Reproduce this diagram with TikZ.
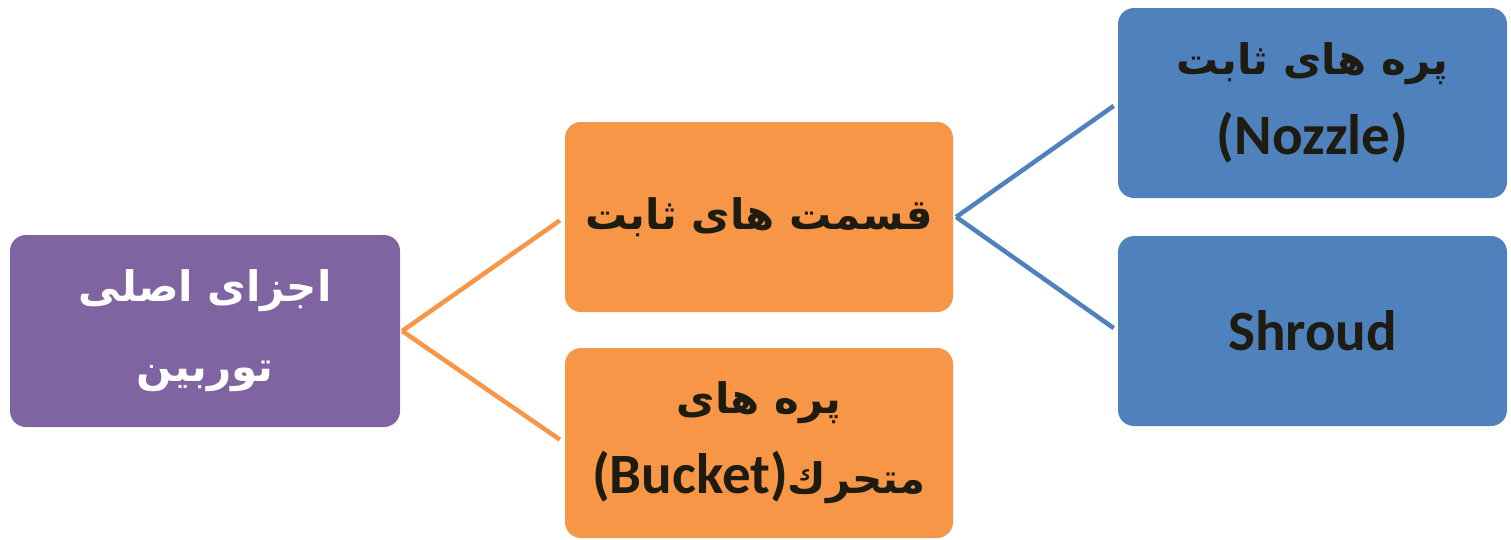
\documentclass[tikz,border=0pt]{standalone}
\usepackage{fontspec}
\setmainfont{Carlito}
\newfontfamily\arfam[Script=Arabic]{DejaVu Sans}
\newfontfamily\latfam{Carlito}
\newcommand\ar{\arfam\fontsize{42}{80}\selectfont}
\newcommand\lat{\latfam\fontsize{57}{80}\selectfont}
\TeXXeTstate=1
\definecolor{cpurple}{HTML}{8064A2}
\definecolor{corange}{HTML}{F79646}
\definecolor{cblue}{HTML}{4F81BD}
\definecolor{ctext}{HTML}{1E1B10}
\tikzset{
  box/.style={rounded corners=16pt, inner sep=0pt, align=center,
    font=\bfseries\fontsize{42}{80}\selectfont, text=ctext},
  pbox/.style={box, fill=cpurple, text=white, minimum width=390pt, minimum height=192pt},
  obox/.style={box, fill=corange, minimum width=388pt, minimum height=190pt},
  bbox/.style={box, fill=cblue, minimum width=389pt, minimum height=190pt},
  oline/.style={draw=corange, line width=4.5pt, shorten >=6pt},
  bline/.style={draw=cblue, line width=4.5pt, shorten >=5pt}
}
\begin{document}
\begin{tikzpicture}[x=1pt,y=-1pt]
\useasboundingbox (0,0) rectangle (1511,539);
\node[pbox] (root) at (205,331) {\ar\beginR اجزای اصلی\endR\\\ar\beginR توربین\endR};
\node[obox] (fixed) at (759,217) {\ar\beginR قسمت های ثابت\endR};
\node[obox] (moving) at (759,443) {\ar\beginR پره های\endR\\\ar\beginR متحرك\beginL{\lat(Bucket)}\endL\endR};
\node[bbox] (nozzle) at (1312.5,103) {\ar\beginR پره های ثابت\endR\\{\lat(Nozzle)}};
\node[bbox] (shroud) at (1312.5,331) {\lat Shroud};
\draw[oline] ([xshift=2pt]root.east) -- (fixed.west);
\draw[oline] ([xshift=2pt]root.east) -- (moving.west);
\draw[bline] ([xshift=3pt]fixed.east) -- (nozzle.west);
\draw[bline] ([xshift=3pt]fixed.east) -- (shroud.west);
\end{tikzpicture}
\end{document}
